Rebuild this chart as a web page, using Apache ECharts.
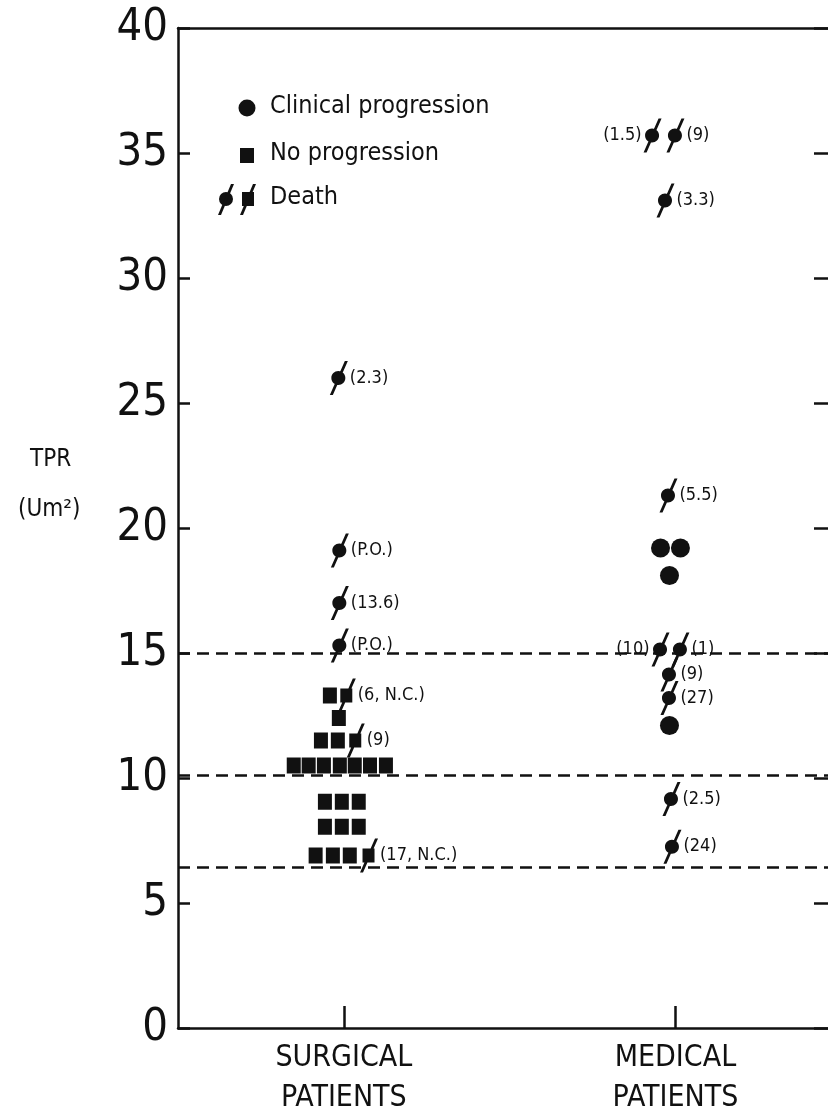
<!DOCTYPE html>
<html>
<head>
<meta charset="utf-8">
<script src="https://cdn.jsdelivr.net/npm/echarts@6/dist/echarts.min.js"></script>
<style>
  html, body { margin: 0; padding: 0; background: #fff; }
  #chart { width: 828px; height: 1118px; }
</style>
</head>
<body>
<div id="chart"></div>
<script>
var FONT = '"DejaVu Sans Condensed", "Liberation Sans Narrow", sans-serif';

// x groups: 0 = surgical, 1 = medical
var categories = ['SURGICAL\nPATIENTS', 'MEDICAL\nPATIENTS'];
var yTicks = [0, 5, 10, 15, 20, 25, 30, 35, 40];
var thresholds = [15, 10.1, 6.45];

// clinical progression (all medical patients)
var progGroup = [1, 1, 1, 1];
var progTPR = [19.2, 19.2, 18.1, 12.1];
var progJitter = [-0.045, 0.015, -0.018, -0.018];

// no progression (all surgical patients)
var noProgTPR = [13.3, 12.4, 11.5, 11.5,
  10.5, 10.5, 10.5, 10.5, 10.5, 10.5, 10.5,
  9.05, 9.05, 9.05, 8.05, 8.05, 8.05,
  6.9, 6.9, 6.9];
var noProgJitter = [-0.042, -0.015, -0.069, -0.018,
  -0.151, -0.106, -0.06, -0.012, 0.033, 0.079, 0.127,
  -0.057, -0.006, 0.045, -0.057, -0.006, 0.045,
  -0.085, -0.033, 0.018];

// deaths among clinical progression (circle with slash)
var deathCircleGroup = [0, 0, 0, 0, 1, 1, 1, 1, 1, 1, 1, 1, 1, 1];
var deathCircleTPR = [26.0, 19.1, 17.0, 15.3, 35.7, 35.7, 33.1, 21.3, 15.14, 15.14, 14.14, 13.2, 9.16, 7.25];
var deathCircleJitter = [-0.015, -0.012, -0.012, -0.012, -0.069, 0, -0.03, -0.021, -0.045, 0.015, -0.018, -0.018, -0.012, -0.009];
var deathCircleNotes = ['(2.3)', '(P.O.)', '(13.6)', '(P.O.)', '(1.5)', '(9)', '(3.3)', '(5.5)', '(10)', '(1)', '(9)', '(27)', '(2.5)', '(24)'];
var deathCircleSide = ['r', 'r', 'r', 'r', 'l', 'r', 'r', 'r', 'l', 'r', 'r', 'r', 'r', 'r'];

// deaths without progression (square with slash, surgical)
var deathSquareTPR = [13.3, 11.5, 6.9];
var deathSquareJitter = [0.009, 0.036, 0.076];
var deathSquareNotes = ['(6, N.C.)', '(9)', '(17, N.C.)'];

var slash = 'M1.5 34 L4.5 34 L19.5 0 L16.5 0 Z';
var ring = 'M3 17 C3 20.866 6.134 24 10 24 C13.866 24 17 20.866 17 17 C17 13.134 13.866 10 10 10 C6.134 10 3 13.134 3 17 Z';
var box = 'M4 10 L4 24 L16 24 L16 10 Z';

var chart = echarts.init(document.getElementById('chart'));

var labelStyle = { color: '#111', fontFamily: FONT, fontSize: 18, distance: 2 };
var ink = { fill: '#111' };
var axisInk = { color: '#111', width: 2.5 };

function legendSlash(x, y) {
  return { type: 'polygon', shape: { points: [[x - 8, y + 16], [x - 5, y + 16], [x + 8, y - 15], [x + 5, y - 15]] }, style: ink };
}

var option = {
  animation: false,
  backgroundColor: '#fff',
  // the frame runs past the right edge of the page; the scale is cut there
  grid: { left: 178, right: 0, top: 28, bottom: 86 },
  xAxis: [{
    type: 'value', min: -0.5, max: 1.46,
    splitLine: { show: false },
    axisLine: { onZero: false, lineStyle: axisInk },
    axisTick: { customValues: [0, 1], inside: true, length: 22, lineStyle: axisInk },
    axisLabel: {
      customValues: [0, 1],
      formatter: function (v) { return categories[Math.round(v)]; },
      color: '#111', fontFamily: FONT, fontSize: 30, lineHeight: 40, margin: 10
    }
  }, {
    type: 'value', min: -0.5, max: 1.46, position: 'top',
    splitLine: { show: false },
    axisLine: { onZero: false, lineStyle: axisInk },
    axisTick: { show: false },
    axisLabel: { show: false }
  }],
  yAxis: [{
    type: 'value', min: 0, max: 40, interval: 5,
    splitLine: { show: false },
    axisLine: { onZero: false, lineStyle: axisInk },
    axisTick: { inside: true, length: 12, lineStyle: axisInk },
    axisLabel: {
      formatter: function (v) { return yTicks.indexOf(v) >= 0 ? String(v) : ''; },
      color: '#111', fontFamily: FONT, fontSize: 45, margin: 10
    }
  }, {
    type: 'value', min: 0, max: 40, interval: 5, position: 'right',
    splitLine: { show: false },
    axisLine: { show: false, onZero: false },
    axisTick: { inside: true, length: 14, lineStyle: axisInk },
    axisLabel: { show: false }
  }],
  graphic: [
    { type: 'text', x: 30, y: 448, style: { text: 'TPR', font: '24px ' + FONT, fill: '#111' } },
    { type: 'text', x: 18, y: 498, style: { text: '(Um²)', font: '24px ' + FONT, fill: '#111' } },
    { type: 'circle', shape: { cx: 247, cy: 108, r: 8.5 }, style: ink },
    { type: 'rect', shape: { x: 240, y: 148, width: 14, height: 15 }, style: ink },
    { type: 'circle', shape: { cx: 226, cy: 199, r: 7 }, style: ink },
    legendSlash(226, 199),
    { type: 'rect', shape: { x: 242, y: 192, width: 12, height: 14 }, style: ink },
    legendSlash(248, 199),
    { type: 'text', x: 270, y: 94, style: { text: 'Clinical progression', font: '25px ' + FONT, fill: '#111' } },
    { type: 'text', x: 270, y: 141, style: { text: 'No progression', font: '25px ' + FONT, fill: '#111' } },
    { type: 'text', x: 270, y: 185, style: { text: 'Death', font: '25px ' + FONT, fill: '#111' } }
  ],
  series: [
    {
      name: 'No progression', type: 'scatter', symbol: 'rect', symbolSize: [14, 16],
      itemStyle: { color: '#111', opacity: 1 },
      data: noProgTPR.map(function (v, i) { return [noProgJitter[i], v]; }),
      markLine: {
        silent: true, symbol: 'none', label: { show: false },
        lineStyle: { color: '#111', width: 2.5, type: [12, 7] },
        data: thresholds.map(function (t) { return { yAxis: t }; })
      }
    },
    {
      name: 'Clinical progression', type: 'scatter', symbol: 'circle', symbolSize: 19,
      itemStyle: { color: '#111', opacity: 1 },
      data: progTPR.map(function (v, i) { return [progGroup[i] + progJitter[i], v]; })
    },
    {
      name: 'Death', type: 'scatter', symbol: 'path://' + ring + ' ' + slash, symbolSize: [18, 34],
      itemStyle: { color: '#111', opacity: 1 },
      label: Object.assign({ show: true, formatter: '{b}' }, labelStyle),
      data: deathCircleTPR.map(function (v, i) {
        return {
          name: deathCircleNotes[i],
          value: [deathCircleGroup[i] + deathCircleJitter[i], v],
          label: { position: deathCircleSide[i] === 'l' ? 'left' : 'right' }
        };
      })
    },
    {
      name: 'Death', type: 'scatter', symbol: 'path://' + box + ' ' + slash, symbolSize: [18, 34],
      itemStyle: { color: '#111', opacity: 1 },
      label: Object.assign({ show: true, formatter: '{b}', position: 'right' }, labelStyle),
      data: deathSquareTPR.map(function (v, i) {
        return { name: deathSquareNotes[i], value: [deathSquareJitter[i], v] };
      })
    }
  ]
};

chart.setOption(option);
window.onresize = function () { chart.resize(); };
</script>
</body>
</html>
